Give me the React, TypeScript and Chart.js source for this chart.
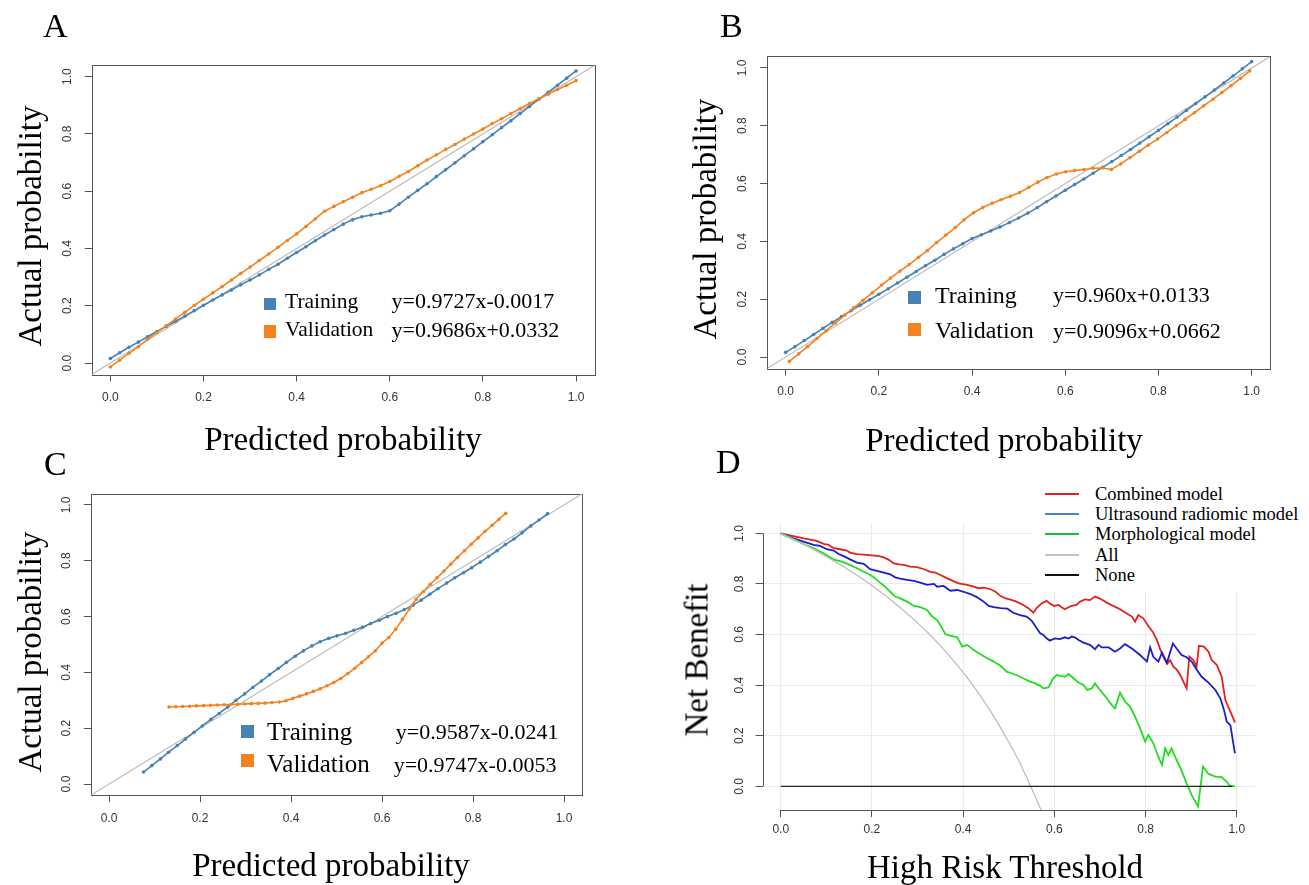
import React, { useEffect, useRef } from "react";
import { Chart, registerables } from "chart.js";

Chart.register(...registerables);

// ---------------- data ----------------
const TICK_VALUES = [0, 0.2, 0.4, 0.6, 0.8, 1.0];
const TICK_LABELS = ["0.0", "0.2", "0.4", "0.6", "0.8", "1.0"];
const DIAG = [-0.04, 1.04];

// Panel A
const A_X = [0, 0.02, 0.04, 0.06, 0.08, 0.1, 0.12, 0.14, 0.16, 0.18, 0.2, 0.22, 0.24, 0.26, 0.28, 0.3, 0.32, 0.34, 0.36, 0.38, 0.4, 0.42, 0.44, 0.46, 0.48, 0.5, 0.52, 0.54, 0.56, 0.58, 0.6, 0.62, 0.64, 0.66, 0.68, 0.7, 0.72, 0.74, 0.76, 0.78, 0.8, 0.82, 0.84, 0.86, 0.88, 0.9, 0.92, 0.94, 0.96, 0.98, 1.0];
const A_TRAIN = [0.016, 0.036, 0.055, 0.073, 0.092, 0.11, 0.128, 0.146, 0.164, 0.183, 0.202, 0.22, 0.238, 0.255, 0.273, 0.29, 0.308, 0.327, 0.345, 0.366, 0.386, 0.406, 0.427, 0.447, 0.466, 0.485, 0.5, 0.511, 0.517, 0.523, 0.532, 0.555, 0.579, 0.603, 0.626, 0.651, 0.675, 0.699, 0.724, 0.748, 0.773, 0.797, 0.822, 0.846, 0.871, 0.896, 0.921, 0.945, 0.97, 0.995, 1.02];
const A_VALID = [-0.014, 0.01, 0.034, 0.057, 0.083, 0.107, 0.13, 0.154, 0.177, 0.201, 0.223, 0.245, 0.267, 0.29, 0.313, 0.335, 0.358, 0.381, 0.404, 0.428, 0.451, 0.477, 0.503, 0.53, 0.547, 0.563, 0.579, 0.595, 0.607, 0.619, 0.634, 0.652, 0.669, 0.689, 0.709, 0.727, 0.746, 0.763, 0.782, 0.8, 0.817, 0.836, 0.853, 0.871, 0.889, 0.906, 0.923, 0.939, 0.955, 0.97, 0.986];
const A_EQ_TRAIN = "y=0.9727x-0.0017";
const A_EQ_VALID = "y=0.9686x+0.0332";

// Panel B
const B_X_TRAIN = [0, 0.02, 0.04, 0.06, 0.08, 0.1, 0.12, 0.14, 0.16, 0.18, 0.2, 0.22, 0.24, 0.26, 0.28, 0.3, 0.32, 0.34, 0.36, 0.38, 0.4, 0.42, 0.44, 0.46, 0.48, 0.5, 0.52, 0.54, 0.56, 0.58, 0.6, 0.62, 0.64, 0.66, 0.68, 0.7, 0.72, 0.74, 0.76, 0.78, 0.8, 0.82, 0.84, 0.86, 0.88, 0.9, 0.92, 0.94, 0.96, 0.98, 1.0];
const B_TRAIN = [0.016, 0.036, 0.057, 0.078, 0.099, 0.12, 0.14, 0.16, 0.179, 0.198, 0.217, 0.236, 0.256, 0.276, 0.296, 0.316, 0.335, 0.355, 0.374, 0.392, 0.41, 0.423, 0.436, 0.45, 0.465, 0.481, 0.498, 0.517, 0.537, 0.557, 0.577, 0.597, 0.616, 0.636, 0.656, 0.676, 0.697, 0.718, 0.74, 0.762, 0.784, 0.807, 0.83, 0.853, 0.877, 0.9, 0.924, 0.948, 0.972, 0.997, 1.022];
const B_X_VALID = [0.008, 0.028, 0.047, 0.067, 0.087, 0.107, 0.127, 0.146, 0.166, 0.186, 0.206, 0.225, 0.245, 0.265, 0.285, 0.304, 0.324, 0.344, 0.364, 0.383, 0.403, 0.423, 0.443, 0.462, 0.482, 0.502, 0.522, 0.541, 0.561, 0.581, 0.601, 0.62, 0.64, 0.66, 0.68, 0.699, 0.719, 0.739, 0.759, 0.778, 0.798, 0.818, 0.838, 0.857, 0.877, 0.897, 0.917, 0.936, 0.956, 0.976, 0.996];
const B_VALID = [-0.015, 0.011, 0.036, 0.064, 0.091, 0.118, 0.145, 0.17, 0.196, 0.222, 0.249, 0.273, 0.297, 0.32, 0.345, 0.368, 0.396, 0.422, 0.448, 0.475, 0.499, 0.517, 0.532, 0.544, 0.556, 0.569, 0.587, 0.605, 0.621, 0.633, 0.641, 0.645, 0.649, 0.653, 0.654, 0.649, 0.668, 0.69, 0.712, 0.733, 0.754, 0.777, 0.8, 0.822, 0.845, 0.869, 0.892, 0.915, 0.939, 0.964, 0.99];
const B_EQ_TRAIN = "y=0.960x+0.0133";
const B_EQ_VALID = "y=0.9096x+0.0662";

// Panel C
const C_X_TRAIN = [0.076, 0.094, 0.113, 0.131, 0.15, 0.168, 0.187, 0.205, 0.224, 0.242, 0.261, 0.279, 0.298, 0.316, 0.335, 0.353, 0.372, 0.39, 0.409, 0.427, 0.446, 0.464, 0.483, 0.501, 0.52, 0.538, 0.557, 0.575, 0.594, 0.612, 0.631, 0.649, 0.668, 0.686, 0.705, 0.723, 0.742, 0.76, 0.779, 0.797, 0.816, 0.834, 0.853, 0.871, 0.89, 0.908, 0.927, 0.945, 0.964];
const C_TRAIN = [0.043, 0.066, 0.09, 0.114, 0.138, 0.161, 0.185, 0.208, 0.232, 0.253, 0.276, 0.3, 0.323, 0.346, 0.369, 0.392, 0.414, 0.436, 0.458, 0.477, 0.495, 0.51, 0.522, 0.531, 0.54, 0.551, 0.562, 0.575, 0.587, 0.6, 0.612, 0.625, 0.641, 0.659, 0.68, 0.7, 0.72, 0.739, 0.757, 0.775, 0.795, 0.815, 0.836, 0.858, 0.878, 0.9, 0.925, 0.946, 0.969];
const C_X_VALID = [0.132, 0.147, 0.162, 0.177, 0.192, 0.208, 0.223, 0.238, 0.253, 0.268, 0.283, 0.298, 0.313, 0.328, 0.343, 0.358, 0.374, 0.389, 0.404, 0.419, 0.434, 0.449, 0.464, 0.479, 0.494, 0.509, 0.525, 0.54, 0.555, 0.57, 0.585, 0.6, 0.615, 0.63, 0.645, 0.66, 0.675, 0.691, 0.706, 0.721, 0.736, 0.751, 0.766, 0.781, 0.796, 0.811, 0.826, 0.842, 0.857, 0.872];
const C_VALID = [0.276, 0.277, 0.278, 0.279, 0.28, 0.281, 0.282, 0.283, 0.284, 0.285, 0.286, 0.287, 0.288, 0.289, 0.29, 0.292, 0.294, 0.298, 0.307, 0.315, 0.323, 0.332, 0.341, 0.352, 0.364, 0.378, 0.396, 0.415, 0.435, 0.456, 0.477, 0.505, 0.525, 0.555, 0.59, 0.627, 0.662, 0.69, 0.716, 0.739, 0.763, 0.788, 0.812, 0.836, 0.859, 0.882, 0.905, 0.927, 0.949, 0.97];
const C_EQ_TRAIN = "y=0.9587x-0.0241";
const C_EQ_VALID = "y=0.9747x-0.0053";

// Panel D (decision curves)
const D_RED_X = [0, 0.05, 0.079, 0.094, 0.105, 0.116, 0.13, 0.145, 0.152, 0.167, 0.182, 0.2, 0.215, 0.226, 0.237, 0.248, 0.259, 0.27, 0.284, 0.299, 0.314, 0.328, 0.339, 0.35, 0.365, 0.376, 0.39, 0.409, 0.423, 0.434, 0.445, 0.46, 0.471, 0.482, 0.493, 0.504, 0.517, 0.532, 0.543, 0.554, 0.561, 0.572, 0.583, 0.59, 0.6, 0.609, 0.616, 0.623, 0.631, 0.638, 0.649, 0.656, 0.667, 0.678, 0.689, 0.7, 0.715, 0.729, 0.744, 0.758, 0.77, 0.777, 0.784, 0.795, 0.806, 0.817, 0.825, 0.832, 0.839, 0.847, 0.854, 0.861, 0.868, 0.876, 0.883, 0.89, 0.896, 0.905, 0.912, 0.917, 0.928, 0.938, 0.945, 0.956, 0.967, 0.975, 0.986, 0.996];
const D_RED_Y = [1.0, 0.98, 0.97, 0.958, 0.954, 0.941, 0.937, 0.932, 0.924, 0.918, 0.916, 0.913, 0.91, 0.905, 0.895, 0.881, 0.877, 0.875, 0.868, 0.866, 0.858, 0.848, 0.845, 0.835, 0.822, 0.813, 0.802, 0.796, 0.789, 0.783, 0.785, 0.779, 0.769, 0.752, 0.743, 0.738, 0.73, 0.717, 0.704, 0.686, 0.704, 0.723, 0.733, 0.723, 0.713, 0.717, 0.708, 0.7, 0.708, 0.713, 0.717, 0.73, 0.739, 0.736, 0.75, 0.742, 0.726, 0.713, 0.7, 0.684, 0.671, 0.651, 0.677, 0.664, 0.634, 0.607, 0.578, 0.542, 0.513, 0.484, 0.499, 0.473, 0.462, 0.44, 0.414, 0.387, 0.513, 0.499, 0.473, 0.555, 0.552, 0.532, 0.499, 0.48, 0.433, 0.341, 0.295, 0.253];
const D_BLUE_X = [0, 0.028, 0.05, 0.072, 0.086, 0.101, 0.116, 0.127, 0.138, 0.152, 0.167, 0.182, 0.196, 0.211, 0.226, 0.24, 0.251, 0.262, 0.277, 0.292, 0.306, 0.321, 0.336, 0.343, 0.357, 0.372, 0.387, 0.401, 0.416, 0.431, 0.445, 0.456, 0.467, 0.482, 0.497, 0.51, 0.525, 0.539, 0.55, 0.558, 0.569, 0.576, 0.583, 0.59, 0.601, 0.612, 0.623, 0.631, 0.638, 0.645, 0.653, 0.664, 0.678, 0.689, 0.697, 0.704, 0.719, 0.733, 0.744, 0.755, 0.77, 0.788, 0.803, 0.81, 0.817, 0.828, 0.836, 0.847, 0.86, 0.868, 0.879, 0.89, 0.901, 0.912, 0.923, 0.938, 0.953, 0.964, 0.972, 0.978, 0.986, 0.996];
const D_BLUE_Y = [1.0, 0.98, 0.967, 0.954, 0.95, 0.937, 0.932, 0.918, 0.91, 0.897, 0.884, 0.879, 0.858, 0.852, 0.845, 0.838, 0.826, 0.821, 0.816, 0.812, 0.805, 0.796, 0.8, 0.789, 0.792, 0.773, 0.776, 0.769, 0.76, 0.747, 0.73, 0.713, 0.708, 0.704, 0.702, 0.686, 0.677, 0.671, 0.655, 0.634, 0.605, 0.598, 0.585, 0.576, 0.585, 0.582, 0.589, 0.584, 0.592, 0.589, 0.578, 0.568, 0.559, 0.542, 0.559, 0.549, 0.549, 0.532, 0.545, 0.562, 0.545, 0.519, 0.493, 0.549, 0.512, 0.493, 0.528, 0.489, 0.565, 0.545, 0.519, 0.51, 0.493, 0.462, 0.433, 0.41, 0.381, 0.348, 0.302, 0.256, 0.242, 0.13];
const D_GREEN_X = [0, 0.028, 0.05, 0.072, 0.094, 0.108, 0.119, 0.134, 0.152, 0.167, 0.182, 0.193, 0.204, 0.215, 0.229, 0.24, 0.251, 0.262, 0.277, 0.292, 0.306, 0.321, 0.332, 0.343, 0.354, 0.361, 0.376, 0.387, 0.398, 0.409, 0.423, 0.438, 0.453, 0.467, 0.482, 0.495, 0.506, 0.521, 0.536, 0.547, 0.558, 0.569, 0.576, 0.587, 0.596, 0.605, 0.616, 0.623, 0.631, 0.642, 0.653, 0.664, 0.672, 0.682, 0.689, 0.7, 0.715, 0.726, 0.733, 0.744, 0.755, 0.766, 0.777, 0.788, 0.799, 0.806, 0.817, 0.828, 0.836, 0.843, 0.85, 0.857, 0.868, 0.879, 0.89, 0.901, 0.915, 0.926, 0.938, 0.953, 0.967, 0.978, 0.985, 0.996];
const D_GREEN_Y = [1.0, 0.976, 0.958, 0.941, 0.921, 0.905, 0.895, 0.888, 0.875, 0.862, 0.848, 0.839, 0.826, 0.809, 0.789, 0.769, 0.75, 0.743, 0.73, 0.713, 0.708, 0.697, 0.671, 0.657, 0.625, 0.601, 0.594, 0.589, 0.552, 0.559, 0.539, 0.522, 0.506, 0.493, 0.477, 0.453, 0.447, 0.436, 0.423, 0.414, 0.407, 0.397, 0.387, 0.391, 0.423, 0.44, 0.436, 0.433, 0.444, 0.427, 0.41, 0.401, 0.381, 0.387, 0.407, 0.381, 0.348, 0.321, 0.308, 0.37, 0.335, 0.315, 0.275, 0.229, 0.177, 0.203, 0.17, 0.117, 0.084, 0.15, 0.124, 0.15, 0.104, 0.062, 0.012, -0.034, -0.08, 0.078, 0.049, 0.038, 0.036, 0.018, 0.001, 0.001];
const D_ALL_X = [0, 0.05, 0.1, 0.15, 0.2, 0.25, 0.3, 0.325, 0.35, 0.375, 0.4, 0.425, 0.45, 0.475, 0.5, 0.525, 0.55, 0.575];
const D_ALL_Y = [1.0, 0.957, 0.908, 0.854, 0.794, 0.725, 0.646, 0.603, 0.556, 0.505, 0.45, 0.39, 0.325, 0.253, 0.175, 0.09, -0.008, -0.11];
const D_NONE_X = [0, 0.99];
const D_NONE_Y = [0, 0];
const D_LEGEND = ["Combined model", "Ultrasound radiomic model", "Morphological model", "All", "None"];

// ---------------- styles ----------------
const SERIF = "'Liberation Serif', 'Times New Roman', Times, serif";
const SANS = "'Liberation Sans', Arial, Helvetica, sans-serif";
const BLUE = "#4682B4";
const ORANGE = "#F5821F";
const D_COLORS = ["#E5201F", "#1D1DCF", "#22DD22", "#BEBEBE", "#222222"];
const D_LEGEND_COLORS = ["#E5201F", "#4A84C4", "#1DBB45", "#C4C4C4", "#111111"];

const Y_W = 45;
const X_H = 40;

type Rect = { left: number; top: number; width: number; height: number };
type Area = { l: number; t: number; r: number; b: number };

function pts(xs: number[], ys: number[]) {
  return xs.map((x, i) => ({ x, y: ys[i] }));
}

const boxPlugin = {
  id: "rbox",
  beforeDatasetsDraw(chart: any) {
    const { ctx, chartArea: a } = chart;
    ctx.save();
    ctx.strokeStyle = "#555555";
    ctx.lineWidth = 1;
    const l = Math.round(a.left) + 0.5;
    const t = Math.round(a.top) + 0.5;
    const r = Math.round(a.right) + 0.5;
    const b = Math.round(a.bottom) + 0.5;
    ctx.strokeRect(l, t, r - l, b - t);
    ctx.restore();
  },
};

const rAxisPlugin = {
  id: "raxis",
  beforeDatasetsDraw(chart: any) {
    const { ctx, chartArea: a, scales } = chart;
    const xs = scales.x;
    const ys = scales.y;
    ctx.save();
    ctx.strokeStyle = "#555555";
    ctx.lineWidth = 1;
    const yb = Math.round(a.bottom) + 0.5;
    const xl = Math.round(a.left) + 0.5;
    ctx.beginPath();
    ctx.moveTo(xs.getPixelForValue(TICK_VALUES[0]), yb);
    ctx.lineTo(xs.getPixelForValue(TICK_VALUES[TICK_VALUES.length - 1]), yb);
    ctx.moveTo(xl, ys.getPixelForValue(TICK_VALUES[0]));
    ctx.lineTo(xl, ys.getPixelForValue(TICK_VALUES[TICK_VALUES.length - 1]));
    ctx.stroke();
    ctx.restore();
  },
};

function makeScale(axis: "x" | "y", min: number, max: number, pad: number, gridOn: boolean) {
  const base: any = {
    type: "linear",
    position: axis === "x" ? "bottom" : "left",
    min,
    max,
    afterBuildTicks: (s: any) => {
      s.ticks = TICK_VALUES.map((v) => ({ value: v }));
    },
    afterFit: (s: any) => {
      if (axis === "x") s.height = X_H;
      else s.width = Y_W;
    },
    border: { display: false },
    grid: {
      display: true,
      drawOnChartArea: gridOn,
      drawTicks: true,
      tickLength: 7,
      color: "#EBEBEB",
      tickColor: "#555555",
      lineWidth: 1,
      tickWidth: 1,
    },
    ticks: {
      autoSkip: false,
      padding: pad,
      color: "#333333",
      font: { family: SANS, size: 12 },
      callback: (_v: any, i: number) => TICK_LABELS[i],
    },
  };
  if (axis === "y") {
    base.ticks.minRotation = 90;
    base.ticks.maxRotation = 90;
    base.ticks.crossAlign = "center";
  } else {
    base.ticks.maxRotation = 0;
  }
  return base;
}

function makeConfig(
  rect: Rect,
  area: Area,
  datasets: any[],
  range: { x: [number, number]; y: [number, number] },
  pads: { x: number; y: number },
  gridOn: boolean,
  plugins: any[]
) {
  const al = area.l - rect.left;
  const at = area.t - rect.top;
  const ar = area.r - rect.left;
  const ab = area.b - rect.top;
  return {
    type: "scatter",
    data: { datasets },
    options: {
      responsive: false,
      animation: false,
      events: [],
      layout: {
        padding: {
          left: al - Y_W,
          top: at,
          right: rect.width - ar,
          bottom: rect.height - ab - X_H,
        },
      },
      plugins: { legend: { display: false }, tooltip: { enabled: false }, title: { display: false } },
      scales: {
        x: makeScale("x", range.x[0], range.x[1], pads.x, gridOn),
        y: makeScale("y", range.y[0], range.y[1], pads.y, gridOn),
      },
    },
    plugins,
  };
}

function calibDatasets(tx: number[], ty: number[], vx: number[], vy: number[]) {
  const common = {
    showLine: true,
    borderWidth: 1.6,
    pointRadius: 1.8,
    pointBorderWidth: 0,
    tension: 0,
  };
  return [
    { ...common, label: "Validation", data: pts(vx, vy), borderColor: ORANGE, backgroundColor: ORANGE, pointBackgroundColor: ORANGE },
    { ...common, label: "Training", data: pts(tx, ty), borderColor: BLUE, backgroundColor: BLUE, pointBackgroundColor: BLUE },
    {
      label: "Reference",
      data: pts(DIAG, DIAG),
      showLine: true,
      borderColor: "#BDBDBD",
      borderWidth: 1.2,
      pointRadius: 0,
    },
  ];
}

function dcaDatasets() {
  const line = (label: string, xs: number[], ys: number[], color: string, extra: any = {}) => ({
    label,
    data: pts(xs, ys),
    showLine: true,
    borderColor: color,
    backgroundColor: color,
    borderWidth: 1.8,
    pointRadius: 0,
    tension: 0,
    ...extra,
  });
  return [
    line(D_LEGEND[4], D_NONE_X, D_NONE_Y, D_COLORS[4], { borderWidth: 1.2 }),
    line(D_LEGEND[3], D_ALL_X, D_ALL_Y, D_COLORS[3], { borderWidth: 1.3, cubicInterpolationMode: "monotone" }),
    line(D_LEGEND[2], D_GREEN_X, D_GREEN_Y, D_COLORS[2]),
    line(D_LEGEND[1], D_BLUE_X, D_BLUE_Y, D_COLORS[1]),
    line(D_LEGEND[0], D_RED_X, D_RED_Y, D_COLORS[0]),
  ];
}

function ChartCanvas({ rect, config }: { rect: Rect; config: any }) {
  const ref = useRef<HTMLCanvasElement>(null);
  useEffect(() => {
    const chart = new Chart(ref.current as HTMLCanvasElement, config);
    return () => chart.destroy();
  }, []);
  return (
    <canvas
      ref={ref}
      width={rect.width}
      height={rect.height}
      style={{ position: "absolute", left: rect.left, top: rect.top, width: rect.width, height: rect.height }}
    />
  );
}

// baseline-positioned serif text
function Txt({ x, y, text, size, center = false }: { x: number; y: number; text: string; size: number; center?: boolean }) {
  return (
    <div
      style={{
        position: "absolute",
        left: x,
        top: y - 0.8375 * size,
        fontFamily: SERIF,
        fontSize: size,
        lineHeight: `${size}px`,
        whiteSpace: "nowrap",
        color: "#000",
        transform: center ? "translateX(-50%)" : undefined,
      }}
    >
      {text}
    </div>
  );
}

// vertical text, centred (line box) at cx, cy
function VTxt({ cx, cy, text, size }: { cx: number; cy: number; text: string; size: number }) {
  return (
    <div
      style={{
        position: "absolute",
        left: cx,
        top: cy,
        fontFamily: SERIF,
        fontSize: size,
        lineHeight: `${size}px`,
        whiteSpace: "nowrap",
        color: "#000",
        transform: "translate(-50%, -50%) rotate(-90deg)",
      }}
    >
      {text}
    </div>
  );
}

function Square({ x, y, s, color }: { x: number; y: number; s: number; color: string }) {
  return <div style={{ position: "absolute", left: x, top: y, width: s, height: s, background: color }} />;
}

// ---------------- layout ----------------
const RECT_A: Rect = { left: 30, top: 20, width: 600, height: 410 };
const AREA_A: Area = { l: 91.7, t: 65.2, r: 594.7, b: 374.5 };
const RECT_B: Rect = { left: 705, top: 15, width: 600, height: 410 };
const AREA_B: Area = { l: 767, t: 56.4, r: 1270.3, b: 368.6 };
const RECT_C: Rect = { left: 30, top: 450, width: 600, height: 400 };
const AREA_C: Area = { l: 90.8, t: 493.8, r: 582.2, b: 795.2 };
const RECT_D: Rect = { left: 700, top: 470, width: 600, height: 400 };
const AREA_D: Area = { l: 762.5, t: 523.2, r: 1255, b: 810.1 };

const CAL_RANGE = { x: [-0.04, 1.04] as [number, number], y: [-0.04, 1.04] as [number, number] };
const D_RANGE = { x: [-0.04, 1.04] as [number, number], y: [-0.094, 1.04] as [number, number] };

export default function App() {
  const cfgA = makeConfig(RECT_A, AREA_A, calibDatasets(A_X, A_TRAIN, A_X, A_VALID), CAL_RANGE, { x: 8.8, y: 9 }, false, [boxPlugin]);
  const cfgB = makeConfig(RECT_B, AREA_B, calibDatasets(B_X_TRAIN, B_TRAIN, B_X_VALID, B_VALID), CAL_RANGE, { x: 8.8, y: 9 }, false, [boxPlugin]);
  const cfgC = makeConfig(RECT_C, AREA_C, calibDatasets(C_X_TRAIN, C_TRAIN, C_X_VALID, C_VALID), CAL_RANGE, { x: 8.8, y: 9 }, false, [boxPlugin]);
  const cfgD = makeConfig(RECT_D, AREA_D, dcaDatasets(), D_RANGE, { x: 5.8, y: 7.4 }, true, [rAxisPlugin]);

  const dLegendY = [493.7, 513.9, 534.3, 554.7, 575.3];

  return (
    <div style={{ position: "fixed", left: 0, top: 0, width: 1309, height: 885, background: "#fff", overflow: "hidden" }}>
      <ChartCanvas rect={RECT_A} config={cfgA} />
      <ChartCanvas rect={RECT_B} config={cfgB} />
      <ChartCanvas rect={RECT_C} config={cfgC} />
      <ChartCanvas rect={RECT_D} config={cfgD} />

      {/* panel letters */}
      <Txt x={43} y={37} text="A" size={34} />
      <Txt x={720} y={37.3} text="B" size={34} />
      <Txt x={44} y={475} text="C" size={34} />
      <Txt x={716} y={473.7} text="D" size={34} />

      {/* axis titles */}
      <VTxt cx={30} cy={226} text="Actual probability" size={33} />
      <Txt x={343} y={451} text="Predicted probability" size={33} center />
      <VTxt cx={705} cy={219} text="Actual probability" size={33} />
      <Txt x={1004} y={452} text="Predicted probability" size={33} center />
      <VTxt cx={30} cy={652} text="Actual probability" size={33} />
      <Txt x={331} y={877} text="Predicted probability" size={33} center />
      <VTxt cx={697} cy={660} text="Net Benefit" size={33} />
      <Txt x={1005} y={879} text="High Risk Threshold" size={33} center />

      {/* legend A */}
      <Square x={263.5} y={297.5} s={12.5} color={BLUE} />
      <Txt x={285} y={309} text="Training" size={21.5} />
      <Txt x={391.5} y={308.5} text={A_EQ_TRAIN} size={22} />
      <Square x={263.5} y={325} s={12.5} color={ORANGE} />
      <Txt x={285} y={337.5} text="Validation" size={21.5} />
      <Txt x={391.5} y={337} text={A_EQ_VALID} size={22} />

      {/* legend B */}
      <Square x={907.5} y={290.5} s={13} color={BLUE} />
      <Txt x={935} y={303.5} text="Training" size={24} />
      <Txt x={1053} y={302} text={B_EQ_TRAIN} size={22} />
      <Square x={907.5} y={323} s={13} color={ORANGE} />
      <Txt x={935} y={338} text="Validation" size={24} />
      <Txt x={1053} y={338} text={B_EQ_VALID} size={22} />

      {/* legend C */}
      <Square x={240.5} y={725} s={13} color={BLUE} />
      <Txt x={267} y={740} text="Training" size={25} />
      <Txt x={395.8} y={739.5} text={C_EQ_TRAIN} size={22} />
      <Square x={240.5} y={754} s={13} color={ORANGE} />
      <Txt x={267} y={772} text="Validation" size={25} />
      <Txt x={393.7} y={772} text={C_EQ_VALID} size={22} />

      {/* legend D */}
      <div style={{ position: "absolute", left: 1032, top: 470, width: 277, height: 122, background: "#fff" }} />
      {D_LEGEND.map((name, i) => (
        <React.Fragment key={name}>
          <div
            style={{
              position: "absolute",
              left: 1045,
              top: dLegendY[i] - 1,
              width: 34,
              height: 2,
              background: D_LEGEND_COLORS[i],
            }}
          />
          <Txt x={1095} y={dLegendY[i] + 6.3} text={name} size={18.5} />
        </React.Fragment>
      ))}
    </div>
  );
}
